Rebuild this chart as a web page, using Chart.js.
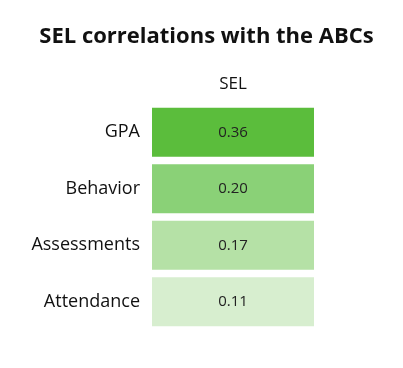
<!DOCTYPE html>
<html>
<head>
<meta charset="utf-8">
<script src="https://cdn.jsdelivr.net/npm/chart.js@4/dist/chart.umd.min.js"></script>
<style>
  html, body { margin: 0; padding: 0; background: #ffffff; }
  #wrap { width: 403px; height: 368px; }
</style>
</head>
<body>
<div id="wrap"><canvas id="c" width="403" height="368"></canvas></div>
<script>
// Data
const chartTitle = 'SEL correlations with the ABCs';
const columns = ['SEL'];
const categories = ['GPA', 'Behavior', 'Assessments', 'Attendance'];
const selValues = [0.36, 0.20, 0.17, 0.11];
const cellColors = ['#5bbd3c', '#8ad177', '#b5e1a6', '#d7eecf'];

const FONT = '"Open Sans", "Noto Sans", sans-serif';

const cellLabels = {
  id: 'cellLabels',
  afterDatasetsDraw(chart) {
    const ctx = chart.ctx;
    const meta = chart.getDatasetMeta(0);
    ctx.save();
    ctx.font = '15px ' + FONT;
    ctx.fillStyle = '#222222';
    ctx.textAlign = 'center';
    ctx.textBaseline = 'middle';
    meta.data.forEach((bar, i) => {
      const p = bar.getProps(['x', 'y', 'base'], true);
      const cx = (p.x + p.base) / 2;
      ctx.fillText(selValues[i].toFixed(2), cx, p.y);
    });
    ctx.restore();
  }
};

const pageTitle = {
  id: 'pageTitle',
  afterDraw(chart) {
    const ctx = chart.ctx;
    ctx.save();
    ctx.font = 'bold 22px ' + FONT;
    ctx.fillStyle = '#111111';
    ctx.textAlign = 'center';
    ctx.textBaseline = 'middle';
    ctx.fillText(chartTitle, chart.width / 2 + 5, 37);
    ctx.restore();
  }
};

new Chart(document.getElementById('c'), {
  type: 'bar',
  data: {
    labels: categories,
    datasets: [{
      label: columns[0],
      data: categories.map(() => [0, 1]),
      backgroundColor: cellColors,
      borderColor: 'rgba(255,255,255,0.35)',
      borderWidth: 1,
      borderSkipped: false,
      barPercentage: 1,
      categoryPercentage: 0.9
    }]
  },
  options: {
    indexAxis: 'y',
    responsive: false,
    animation: false,
    events: [],
    layout: { padding: { left: 0, right: 88, top: 50, bottom: 38 } },
    plugins: {
      legend: { display: false },
      tooltip: { enabled: false },
      title: { display: false }
    },
    scales: {
      x: {
        position: 'top',
        min: 0,
        max: 1,
        grid: { display: false, drawTicks: false },
        border: { display: false },
        ticks: { display: false },
        title: {
          display: true,
          text: columns[0],
          color: '#111111',
          font: { family: FONT, size: 17 },
          padding: { top: 24, bottom: 0 }
        },
        afterFit(scale) { scale.height = 54; }
      },
      y: {
        grid: { display: false, drawTicks: false },
        border: { display: false },
        ticks: {
          color: '#111111',
          font: { family: FONT, size: 18 },
          padding: 11
        },
        afterFit(scale) { scale.width = 151; }
      }
    }
  },
  plugins: [cellLabels, pageTitle]
});
</script>
</body>
</html>
